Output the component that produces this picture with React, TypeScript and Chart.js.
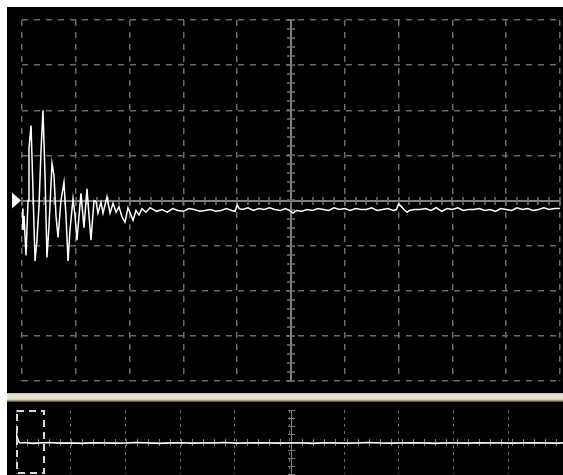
import React, { useEffect, useRef } from "react";
import { Chart, registerables } from "chart.js";

Chart.register(...registerables);

// Main window: 50 µs/div, 0.5 V/div
const mainTimeUs = [
  0, 0.9, 1.9, 3.7, 5.6, 6.5, 8.4, 10.2, 12.1, 13.9, 15.8, 17.7, 19.5, 21.4, 23.2, 25.1,
  27.9, 29.7, 31.6, 33.5, 36.2, 39.0, 40.9, 42.8, 44.6, 47.4, 49.3, 51.1, 53.0, 54.8, 57.6,
  60.4, 62.3, 64.1, 66.9, 68.8, 70.6, 73.4, 75.3, 79.0, 81.8, 84.6, 87.4, 90.1, 92.9, 95.7,
  98.5, 101.3, 103.2, 105.9, 108.7, 111.5, 115.2, 119.0,
  125, 130, 135, 140, 145, 150, 155, 160, 165, 170, 175, 180, 185, 190, 195, 198, 200, 202,
  205, 210, 215, 220, 225, 230, 235, 240, 245, 250, 252, 255, 260, 265, 270, 275, 280, 285,
  290, 295, 300, 305, 310, 315, 320, 325, 330, 335, 340, 345, 348, 350, 352, 355, 358, 360,
  365, 370, 375, 380, 385, 390, 395, 400, 405, 410, 415, 420, 425, 430, 435, 440, 445, 450,
  455, 460, 465, 470, 475, 480, 485, 490, 495, 500,
];
const mainVolts = [
  -0.09, -0.33, -0.17, -0.61, 0.0, 0.58, 0.83, 0.11, -0.67, -0.44, -0.06, 0.56, 1.0, 0.28, -0.63, -0.28,
  0.41, 0.28, -0.17, -0.41, 0.0, 0.2, -0.17, -0.67, -0.33, 0.02, -0.17, -0.44, -0.17, 0.08, -0.3,
  0.13, -0.17, -0.44, 0.0, -0.01, -0.14, -0.02, -0.14, 0.04, -0.14, -0.03, -0.13, -0.07, -0.18, -0.24,
  -0.08, -0.16, -0.22, -0.11, -0.16, -0.09, -0.13, -0.08,
  -0.12, -0.1, -0.13, -0.09, -0.11, -0.12, -0.09, -0.1, -0.12, -0.11, -0.1, -0.12, -0.11, -0.09, -0.11, -0.12, -0.05, -0.09,
  -0.1, -0.08, -0.11, -0.09, -0.1, -0.08, -0.1, -0.11, -0.09, -0.12, -0.14, -0.11, -0.12, -0.1, -0.11, -0.09, -0.1, -0.11,
  -0.08, -0.1, -0.09, -0.11, -0.09, -0.1, -0.1, -0.08, -0.11, -0.1, -0.09, -0.11, -0.1, -0.04, -0.06, -0.1, -0.13, -0.11,
  -0.1, -0.1, -0.09, -0.11, -0.08, -0.12, -0.09, -0.1, -0.08, -0.11, -0.1, -0.1, -0.09, -0.11, -0.1, -0.12, -0.09, -0.1,
  -0.11, -0.08, -0.1, -0.09, -0.11, -0.1, -0.08, -0.1, -0.09, -0.09,
];

// Overview (whole record): 1 ms/div
const overviewTimeUs = [
  0, 3, 20, 45, 70, 150, 300, 450, 600, 800, 1000, 1200, 1400, 1600, 1800, 2000, 2200, 2400,
  2600, 2800, 3000, 3200, 3400, 3600, 3800, 4000, 4200, 4400, 4600, 4800, 5000, 5200, 5400,
  5600, 5800, 6000, 6200, 6400, 6600, 6800, 7000, 7200, 7400, 7600, 7800, 8000, 8200, 8400,
  8600, 8800, 9000, 9200, 9400, 9600, 9800, 9930,
];
const overviewVolts = [
  -0.1, 1.0, 0.5, 0.1, -0.1, -0.05, -0.15, -0.1, -0.05, -0.12, -0.1, -0.15, -0.08, -0.1, -0.12, -0.1, -0.05, -0.1,
  -0.15, -0.1, -0.08, -0.12, -0.1, -0.1, -0.05, -0.12, -0.1, -0.08, -0.1, -0.12, -0.1, -0.1, -0.15,
  -0.08, -0.1, -0.12, -0.1, -0.05, -0.1, -0.12, -0.1, -0.08, -0.1, -0.15, -0.1, -0.1, -0.12, -0.08,
  -0.1, -0.1, -0.12, -0.1, -0.08, -0.1, -0.12, -0.1,
];

// Visible window shown in the overview (µs)
const windowStartUs = 0;
const windowEndUs = 490;

const mainDecor = {
  id: "mainDecor",
  beforeDatasetsDraw(chart: any) {
    const { ctx, chartArea: a, scales } = chart;
    const x = scales.x, y = scales.y;
    const cx = Math.round(x.getPixelForValue(250));
    const cy = Math.round(y.getPixelForValue(0));
    ctx.save();
    ctx.strokeStyle = "#808080";
    ctx.lineWidth = 2;
    ctx.beginPath();
    ctx.moveTo(a.left, cy);
    ctx.lineTo(a.right, cy);
    ctx.moveTo(cx, a.top);
    ctx.lineTo(cx, a.bottom);
    ctx.stroke();
    ctx.lineWidth = 1.5;
    ctx.strokeStyle = "#747474";
    ctx.beginPath();
    for (let t = 0; t <= 500.001; t += 10) {
      const px = Math.round(x.getPixelForValue(t));
      ctx.moveTo(px, cy - 4);
      ctx.lineTo(px, cy + 4);
    }
    for (let v = -2; v <= 2.0001; v += 0.1) {
      const py = Math.round(y.getPixelForValue(v));
      ctx.moveTo(cx - 4, py);
      ctx.lineTo(cx + 4, py);
    }
    ctx.stroke();
    ctx.restore();
  },
  afterDraw(chart: any) {
    const { ctx, chartArea: a, scales } = chart;
    const cy = scales.y.getPixelForValue(0);
    ctx.save();
    ctx.fillStyle = "#f4f4f4";
    ctx.beginPath();
    ctx.moveTo(a.left - 1, cy);
    ctx.lineTo(a.left - 10, cy - 8);
    ctx.lineTo(a.left - 10, cy + 8);
    ctx.closePath();
    ctx.fill();
    ctx.restore();
  },
};

const overviewDecor = {
  id: "overviewDecor",
  beforeDatasetsDraw(chart: any) {
    const { ctx, chartArea: a, scales } = chart;
    const x = scales.x, y = scales.y;
    const cx = Math.round(x.getPixelForValue(5000));
    const cy = Math.round(y.getPixelForValue(0));
    ctx.save();
    ctx.strokeStyle = "#7a7a7a";
    ctx.lineWidth = 1;
    ctx.beginPath();
    ctx.moveTo(a.left, cy + 0.5);
    ctx.lineTo(a.right, cy + 0.5);
    ctx.moveTo(cx + 0.5, a.top);
    ctx.lineTo(cx + 0.5, a.bottom);
    for (let t = 0; t <= 10000; t += 200) {
      const px = Math.round(x.getPixelForValue(t)) + 0.5;
      ctx.moveTo(px, cy - 3);
      ctx.lineTo(px, cy + 4);
    }
    for (let v = -3.2; v <= 3.2001; v += 0.8) {
      const py = Math.round(y.getPixelForValue(v)) + 0.5;
      ctx.moveTo(cx - 3, py);
      ctx.lineTo(cx + 4, py);
    }
    ctx.stroke();
    ctx.restore();
  },
  afterDatasetsDraw(chart: any) {
    const { ctx, scales } = chart;
    const x = scales.x, y = scales.y;
    const x0 = x.getPixelForValue(windowStartUs);
    const x1 = x.getPixelForValue(windowEndUs);
    const y0 = y.getPixelForValue(3.2);
    const y1 = y.getPixelForValue(-3.0);
    ctx.save();
    ctx.strokeStyle = "#d8d8d8";
    ctx.lineWidth = 2;
    ctx.setLineDash([7, 5]);
    ctx.strokeRect(x0 + 1, y0 + 1, x1 - x0, y1 - y0);
    ctx.restore();
  },
};

export default function App() {
  const mainRef = useRef<HTMLCanvasElement>(null);
  const overRef = useRef<HTMLCanvasElement>(null);

  useEffect(() => {
    const mainChart = new Chart(mainRef.current!, {
      type: "scatter",
      data: {
        datasets: [
          {
            data: mainTimeUs.map((t, i) => ({ x: t, y: mainVolts[i] })),
            showLine: true,
            borderColor: "#ffffff",
            borderWidth: 1.5,
            pointRadius: 0,
            tension: 0,
          },
        ],
      },
      options: {
        responsive: false,
        animation: false,
        layout: { padding: { left: 15, right: 3, top: 13, bottom: 12 } },
        plugins: { legend: { display: false }, tooltip: { enabled: false } },
        scales: {
          x: {
            type: "linear",
            min: 0,
            max: 500,
            ticks: { display: false, stepSize: 50 },
            grid: { color: "#6a6a6a", lineWidth: 1.5, drawTicks: false },
            border: { display: false, dash: [6, 6] },
          },
          y: {
            type: "linear",
            min: -2,
            max: 2,
            ticks: { display: false, stepSize: 0.5 },
            grid: { color: "#6a6a6a", lineWidth: 1.5, drawTicks: false },
            border: { display: false, dash: [6, 6] },
          },
        },
      },
      plugins: [mainDecor],
    } as any);

    const overChart = new Chart(overRef.current!, {
      type: "scatter",
      data: {
        datasets: [
          {
            data: overviewTimeUs.map((t, i) => ({ x: t, y: overviewVolts[i] })),
            showLine: true,
            borderColor: "#ffffff",
            borderWidth: 1.5,
            pointRadius: 0,
            tension: 0,
          },
        ],
      },
      options: {
        responsive: false,
        animation: false,
        layout: { padding: { left: 9, right: 0, top: 8, bottom: 1 } },
        plugins: { legend: { display: false }, tooltip: { enabled: false } },
        scales: {
          x: {
            type: "linear",
            min: 0,
            max: 9930,
            ticks: { display: false, stepSize: 1000 },
            grid: { color: "#6c6c6c", lineWidth: 1, drawTicks: false },
            border: { display: false, dash: [3, 4] },
          },
          y: {
            type: "linear",
            min: -3.2,
            max: 3.2,
            ticks: { display: false, stepSize: 0.8 },
            grid: { display: false, drawTicks: false },
            border: { display: false },
          },
        },
      },
      plugins: [overviewDecor],
    } as any);

    return () => {
      mainChart.destroy();
      overChart.destroy();
    };
  }, []);

  return (
    <div
      style={{
        position: "absolute",
        left: 7,
        top: 7,
        width: 556,
        height: 468,
        background: "#000",
        overflow: "hidden",
      }}
    >
      <canvas
        ref={mainRef}
        width={556}
        height={386}
        style={{ position: "absolute", left: 0, top: 0, display: "block" }}
      />
      <div
        style={{
          position: "absolute",
          left: 0,
          top: 386,
          width: 556,
          height: 9,
          background:
            "linear-gradient(to bottom, #cbc4b0 0%, #eeebe1 35%, #ddd6c3 70%, #9a8a68 88%, #3a2e1a 100%)",
        }}
      />
      <canvas
        ref={overRef}
        width={556}
        height={73}
        style={{ position: "absolute", left: 0, top: 395, display: "block" }}
      />
    </div>
  );
}
